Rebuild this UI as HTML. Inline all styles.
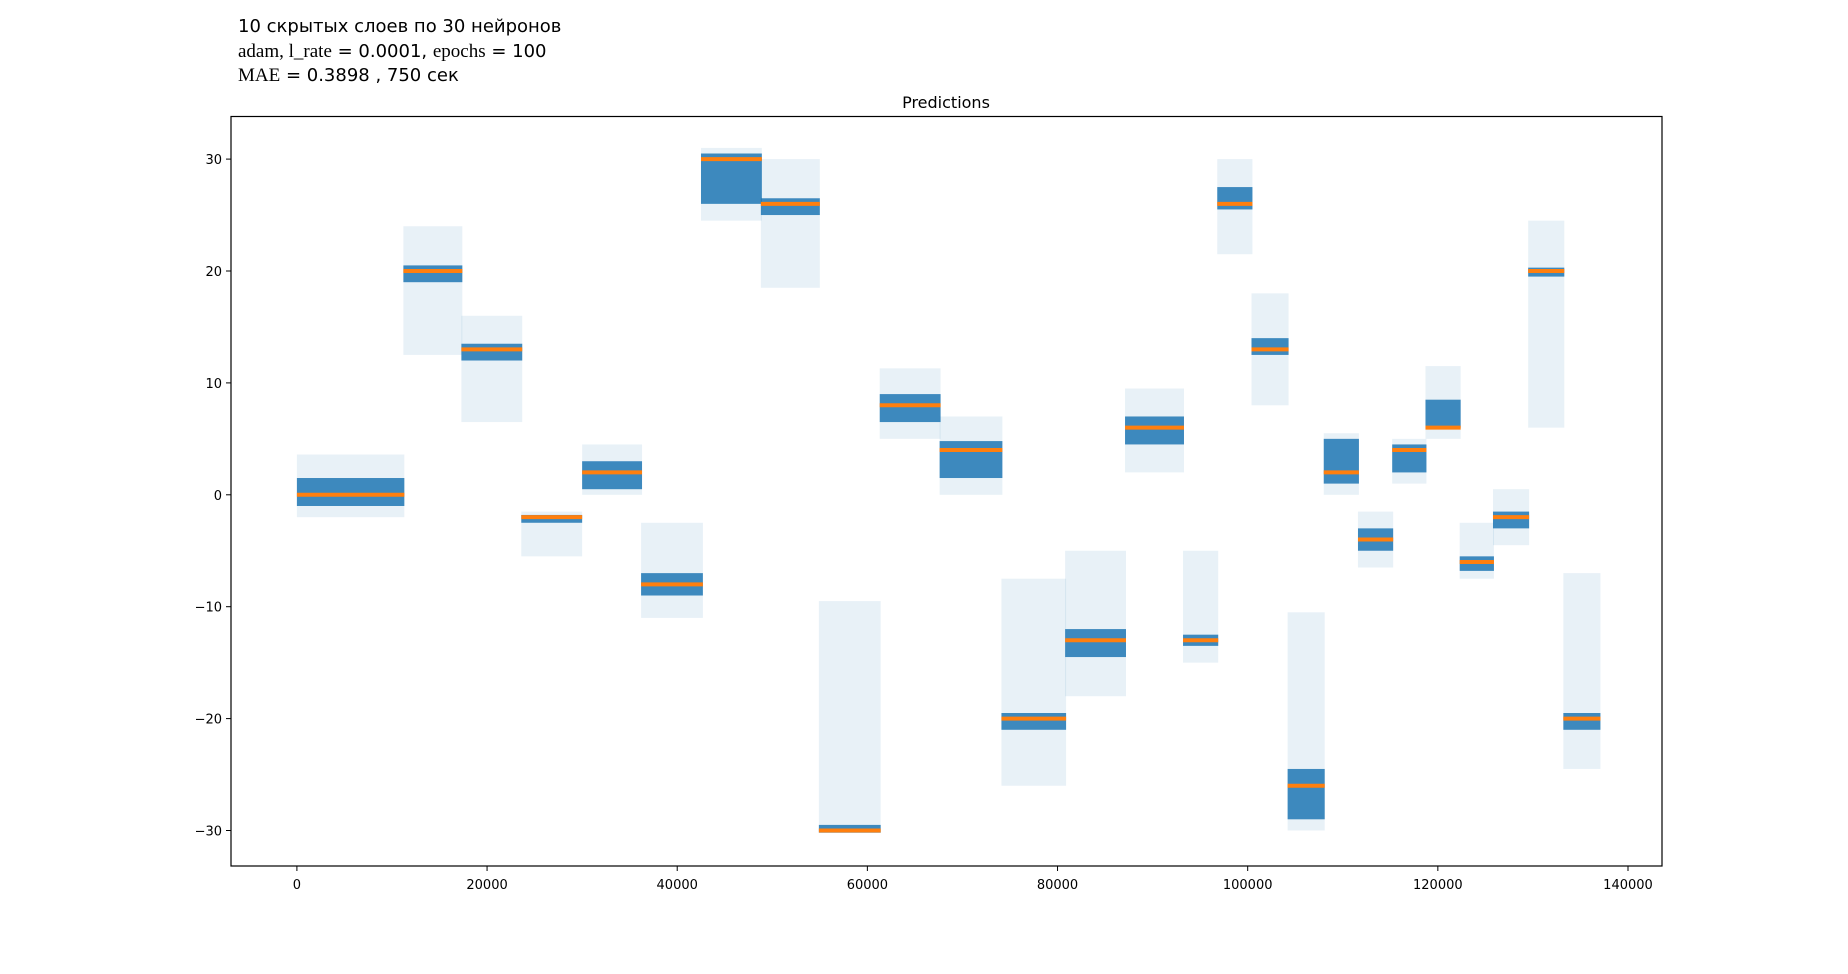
<!DOCTYPE html>
<html><head><meta charset="utf-8"><style>
body{margin:0;background:#fff;}
svg{display:block;font-family:"DejaVu Sans","Liberation Sans",sans-serif;}
</style></head><body>
<svg id="chart" width="1848" height="974" viewBox="0 0 1848 974" xmlns="http://www.w3.org/2000/svg">
<g font-size="18" fill="#000">
<text x="238" y="32">10 скрытых слоев по 30 нейронов</text>
<text x="238" y="57"><tspan font-family="Liberation Serif,serif" font-size="19">adam, l_rate</tspan> = 0.0001, <tspan font-family="Liberation Serif,serif" font-size="19">epochs</tspan> = 100</text>
<text x="238" y="81"><tspan font-family="Liberation Serif,serif" font-size="19">MAE</tspan> = 0.3898 , 750 сек</text>
</g>
<text x="946" y="108" font-size="16" text-anchor="middle">Predictions</text>
<g id="plot"></g>
<rect x="231" y="116.5" width="1431" height="749.5" fill="none" stroke="#000" stroke-width="1.2"/>
<g id="axes"></g>
</svg>
<script>
const segStart=[0,11200,17300,23600,30000,36200,42500,48800,54900,61300,67600,74100,80800,87100,93200,96800,100400,104200,108000,111600,115200,118700,122300,125800,129500,133200];
const segEnd=[11300,17400,23700,30000,36300,42700,48900,55000,61400,67700,74200,80900,87200,93300,96900,100500,104300,108100,111700,115300,118800,122400,125900,129600,133300,137100];
const target=[0,20,13,-2,2,-8,30,26,-30,8,4,-20,-13,6,-13,26,13,-26,2,-4,4,6,-6,-2,20,-20];
const bandLo=[-1,19,12,-2.5,0.5,-9,26,25,-30.2,6.5,1.5,-21,-14.5,4.5,-13.5,25.5,12.5,-29,1,-5,2,6,-6.8,-3,19.5,-21];
const bandHi=[1.5,20.5,13.5,-1.8,3,-7,30.5,26.5,-29.5,9,4.8,-19.5,-12,7,-12.5,27.5,14,-24.5,5,-3,4.5,8.5,-5.5,-1.5,20.3,-19.5];
const outLo=[-2,12.5,6.5,-5.5,0,-11,24.5,18.5,-30,5,0,-26,-18,2,-15,21.5,8,-30,0,-6.5,1,5,-7.5,-4.5,6,-24.5];
const outHi=[3.6,24,16,-1.5,4.5,-2.5,31,30,-9.5,11.3,7,-7.5,-5,9.5,-5,30,18,-10.5,5.5,-1.5,5,11.5,-2.5,0.5,24.5,-7];
const xTicks=[0,20000,40000,60000,80000,100000,120000,140000];
const yTicks=[-30,-20,-10,0,10,20,30];
const X=v=>296.9+v*(1331.1/140000);
const Y=v=>494.8-v*11.19;
const NS="http://www.w3.org/2000/svg";
const plot=document.getElementById('plot'),axes=document.getElementById('axes');
function mk(t,a,p){const e=document.createElementNS(NS,t);for(const k in a)e.setAttribute(k,a[k]);p.appendChild(e);return e;}
for(let i=0;i<target.length;i++){
 const x0=X(segStart[i]),x1=X(segEnd[i]);
 const o=mk('rect',{x:x0,y:Y(outHi[i]),width:x1-x0,height:Y(outLo[i])-Y(outHi[i]),fill:'#1f77b4','fill-opacity':0.1},plot);
 
 
 const b=mk('rect',{x:x0,y:Y(bandHi[i]),width:x1-x0,height:Y(bandLo[i])-Y(bandHi[i]),fill:'#1f77b4','fill-opacity':0.85},plot);
 
 
 const l=mk('line',{x1:x0,x2:x1,y1:Y(target[i]),y2:Y(target[i]),stroke:'#ff7f0e','stroke-width':4},plot);
 
 
}
xTicks.forEach(v=>{
 const t=mk('line',{x1:X(v),x2:X(v),y1:866,y2:871,stroke:'#000'},axes);
 
 
 const s=mk('text',{x:X(v),y:889,'font-size':13,'text-anchor':'middle'},axes);s.textContent=v;
 
 
});
yTicks.forEach(v=>{
 const t=mk('line',{x1:226,x2:231,y1:Y(v),y2:Y(v),stroke:'#000'},axes);
 
 
 const s=mk('text',{x:222,y:Y(v)+5,'font-size':13,'text-anchor':'end'},axes);s.textContent=v<0?'\u2212'+(-v):v;
 
 
});
</script>
</body></html>
